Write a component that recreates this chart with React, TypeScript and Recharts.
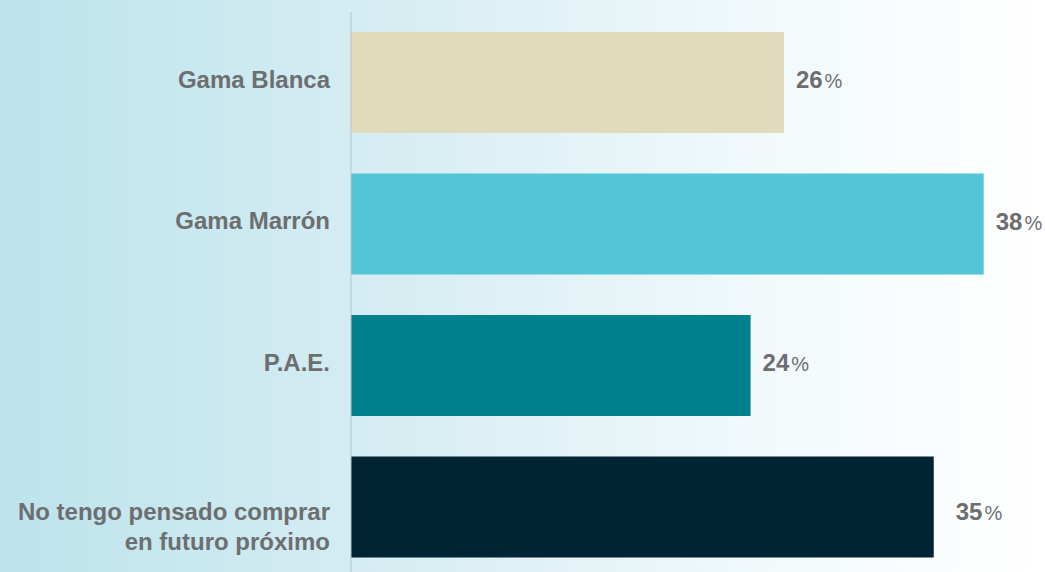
import React from 'react';
import { BarChart, Bar, XAxis, YAxis, Cell, LabelList } from 'recharts';

const categories = ['Gama Blanca', 'Gama Marrón', 'P.A.E.', 'No tengo pensado comprar\nen futuro próximo'];
const shares = [26, 38, 24, 35];
const barColors = ['#dfdbbc', '#52c6d8', '#00828e', '#002433'];

const data = categories.map((name, i) => ({ name, value: shares[i] }));

const textColor = '#6d6e70';
const font = '"Liberation Sans", Arial, Helvetica, sans-serif';

function CategoryTick(props: any) {
  const { x, y, payload } = props;
  const lines = String(payload.value).split('\n');
  const firstDy = lines.length > 1 ? 13 : 5;
  return (
    <text x={x} y={y} textAnchor="end" fill={textColor} fontFamily={font} fontSize={24} fontWeight="bold">
      {lines.map((l, i) => (
        <tspan key={i} x={x} dy={i === 0 ? firstDy : 30}>{l}</tspan>
      ))}
    </text>
  );
}

// the last label sits a bit further out and lower in the original
const nudgeX = [0, 0, 0, 10];
const nudgeY = [0, 1, 0, 8];

function ValueLabel(props: any) {
  const { x, y, width, height, value, index } = props;
  const lx = x + width + 12 + nudgeX[index];
  const ly = y + height / 2 + 5 + nudgeY[index];
  return (
    <text x={lx} y={ly} fill={textColor} fontFamily={font}>
      <tspan fontSize={24} fontWeight="bold">{value}</tspan>
      <tspan fontSize={20} dx={2}>%</tspan>
    </text>
  );
}

export default function App() {
  return (
    <div
      style={{
        position: 'absolute',
        left: 0,
        top: 0,
        width: 1045,
        height: 572,
        overflow: 'hidden',
        background: 'linear-gradient(to right, #bde3ec 0%, #d8eef3 40%, #f3fafc 75%, #ffffff 100%)',
      }}
    >
      <BarChart
        width={1045}
        height={578}
        data={data}
        layout="vertical"
        margin={{ top: 12, right: 28, bottom: 0, left: 0 }}
      >
        <XAxis type="number" domain={[0, 40]} hide />
        <YAxis
          type="category"
          dataKey="name"
          width={351}
          axisLine={{ stroke: '#b9c3c7', strokeWidth: 1 }}
          tickLine={false}
          tick={<CategoryTick />}
          tickMargin={15}
          interval={0}
        />
        <Bar dataKey="value" barSize={101} isAnimationActive={false}>
          {data.map((_, i) => (
            <Cell key={i} fill={barColors[i]} />
          ))}
          <LabelList dataKey="value" content={<ValueLabel />} />
        </Bar>
      </BarChart>
    </div>
  );
}
